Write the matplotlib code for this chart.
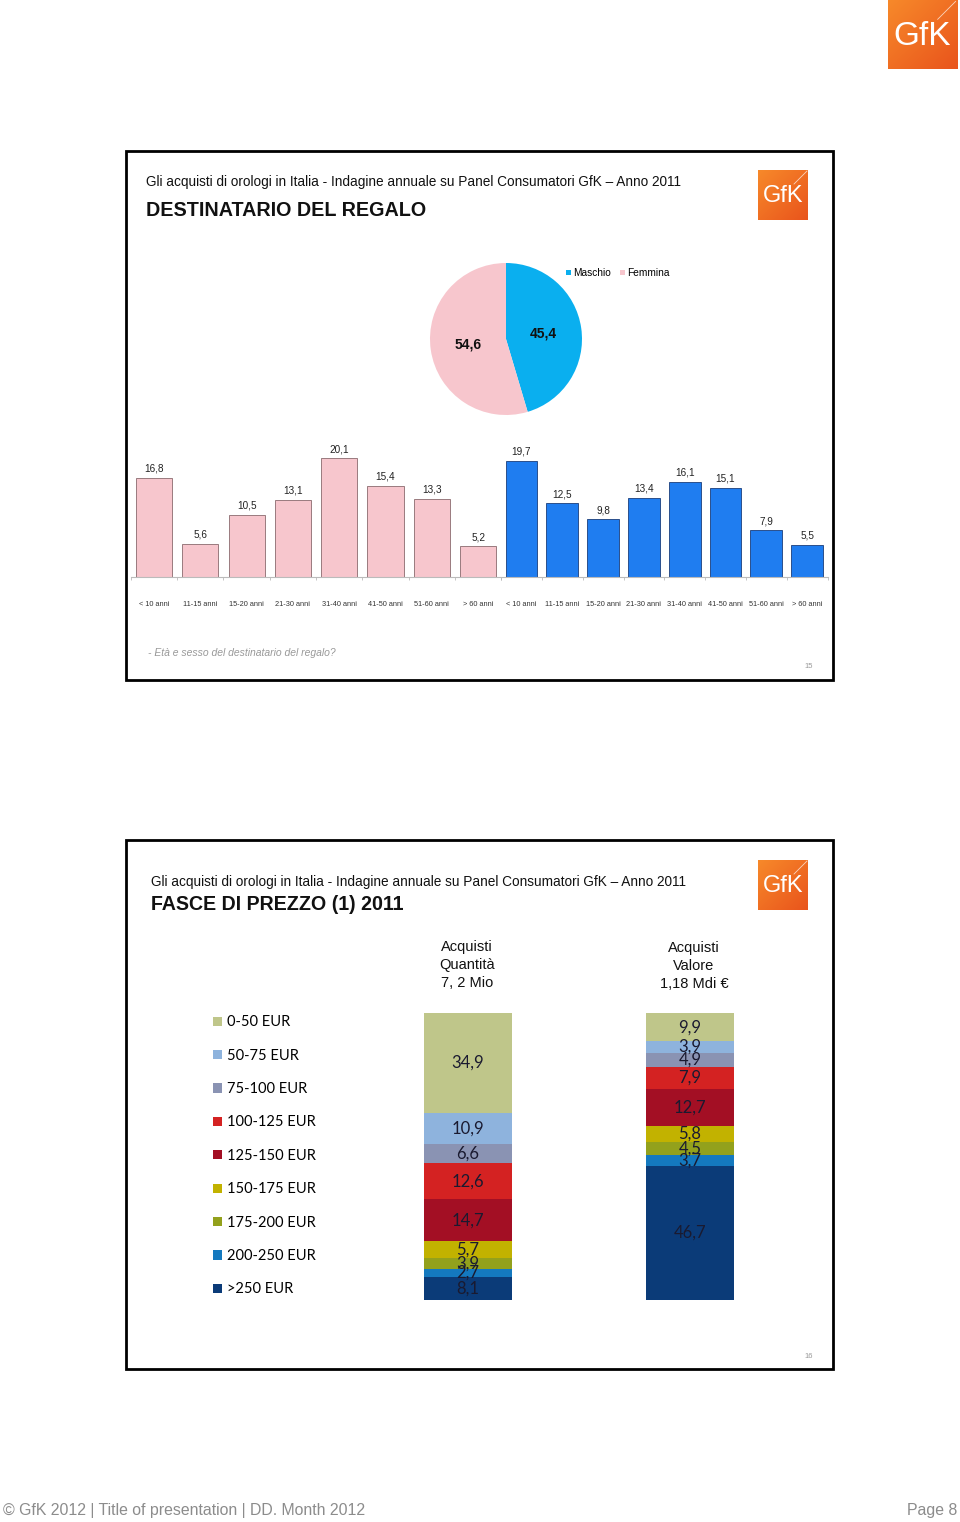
import numpy as np
import matplotlib
matplotlib.use("Agg")
import matplotlib.pyplot as plt
from matplotlib.patches import Rectangle

plt.rcParams["font.family"] = ["Liberation Sans", "DejaVu Sans"]

W, H = 960, 1522

# ── dati ──
sesso = ["Maschio", "Femmina"]
sesso_val = [45.4, 54.6]

eta = ["< 10 anni", "11-15 anni", "15-20 anni", "21-30 anni",
       "31-40 anni", "41-50 anni", "51-60 anni", "> 60 anni"]
femmina_eta = [16.8, 5.6, 10.5, 13.1, 20.1, 15.4, 13.3, 5.2]
maschio_eta = [19.7, 12.5, 9.8, 13.4, 16.1, 15.1, 7.9, 5.5]

fasce = ["0-50 EUR", "50-75 EUR", "75-100 EUR", "100-125 EUR", "125-150 EUR",
         "150-175 EUR", "175-200 EUR", "200-250 EUR", ">250 EUR"]
quantita = [34.9, 10.9, 6.6, 12.6, 14.7, 5.7, 3.9, 2.7, 8.1]
valore = [9.9, 3.9, 4.9, 7.9, 12.7, 5.8, 4.5, 3.7, 46.7]
colonne = ["Acquisti\nQuantità\n7, 2 Mio", "Acquisti\nValore\n1,18 Mdi €"]
fasce_col = ["#BFC68A", "#8EB3DD", "#8A93B3", "#D42222", "#A30F24",
             "#C2B200", "#93A11C", "#1479BF", "#0B3B78"]

titolo_sup = "Gli acquisti di orologi in Italia - Indagine annuale su Panel Consumatori GfK \u2013 Anno 2011"

fig = plt.figure(figsize=(W / 100, H / 100), dpi=100)


def px_axes(x, y, w, h):
    return fig.add_axes([x / W, 1 - (y + h) / H, w / W, h / H])


def fx(x):
    return x / W


def fy(y):
    return 1 - y / H


def comma(v):
    return f"{v:.1f}".replace(".", ",")


def logo(x, y, s, fs):
    ax = px_axes(x, y, s, s)
    g = np.linspace(0, 1, 64)
    grad = (g[None, :] + g[:, None]) / 2
    cmap = matplotlib.colors.LinearSegmentedColormap.from_list("gfk", ["#F7892A", "#E9541C"])
    ax.imshow(grad, cmap=cmap, extent=(0, 1, 0, 1), origin="upper")
    ax.plot([0.72, 0.98], [0.72, 0.98], color="white", lw=0.6, alpha=0.7)
    ax.text(0.5, 0.47, "GfK", color="white", fontsize=fs, ha="center", va="center")
    ax.set_xlim(0, 1)
    ax.set_ylim(0, 1)
    ax.axis("off")


def cornice(x, y, w, h):
    fig.patches.append(Rectangle((fx(x), fy(y + h)), w / W, h / H, transform=fig.transFigure,
                                 fill=False, edgecolor="black", lw=2))


def barre_eta(x0, width_px, vals, color, edge):
    ax = px_axes(x0, 440, width_px, 137)
    b = ax.bar(np.arange(len(eta)), vals, width=0.78, color=color, edgecolor=edge, lw=0.6)
    ax.bar_label(b, labels=[comma(v) for v in vals], padding=3, fontsize=7.2, color="#222222")
    ax.set_xlim(-0.5, len(eta) - 0.5)
    ax.set_ylim(0, 137 / 5.9)
    ax.set_xticks(np.arange(len(eta)))
    ax.set_xticklabels(eta, fontsize=5.3, color="#333333")
    ax.tick_params(axis="x", length=0, pad=17)
    ax.set_xticks(np.arange(len(eta) + 1) - 0.5, minor=True)
    ax.tick_params(axis="x", which="minor", length=2, color="#BBBBBB")
    ax.set_yticks([])
    for s in ("top", "right", "left"):
        ax.spines[s].set_visible(False)
    ax.spines["bottom"].set_color("#BBBBBB")
    ax.spines["bottom"].set_linewidth(0.8)
    return ax


# ── logo in alto ──
logo(888, 0, 69, 24)

# ── slide 1 ──
cornice(126, 151, 707, 529)
fig.text(fx(146), fy(182), titolo_sup, fontsize=9.8, va="center", color="#111111")
fig.text(fx(146), fy(210), "DESTINATARIO DEL REGALO", fontsize=14.2, fontweight="bold",
         va="center", color="#111111")
logo(758, 170, 50, 17)

# torta
axp = px_axes(430, 263, 152, 152)
wedges, _, autotexts = axp.pie(sesso_val, colors=["#0AAFEF", "#F7C6CD"], startangle=90,
                               counterclock=False, pctdistance=0.5,
                               autopct=lambda p: comma(p),
                               textprops=dict(fontsize=10, fontweight="bold", color="#111111"))
axp.set_xlim(-1, 1)
axp.set_ylim(-1, 1)
axp.set_aspect("equal")
fig.legend(wedges, sesso, loc="center left", bbox_to_anchor=(fx(561), fy(273)), ncol=2,
           frameon=False, fontsize=7.3, handlelength=0.5, handleheight=0.5,
           handletextpad=0.2, columnspacing=0.9, borderpad=0)

# barre età: femmina (rosa) e maschio (blu)
barre_eta(130.85, 370.4, femmina_eta, "#F7C6CD", "#8A6A6E")
barre_eta(501.1, 326.4, maschio_eta, "#1F7DF0", "#1B3E7A")

fig.text(fx(148), fy(653), "- Età e sesso del destinatario del regalo?", fontsize=7.5,
         style="italic", color="#999999", va="center")
fig.text(fx(804), fy(666), "15", fontsize=5.5, color="#999999", va="center")

# ── slide 2 ──
cornice(126, 840, 707, 529)
fig.text(fx(151), fy(882), titolo_sup, fontsize=9.8, va="center", color="#111111")
fig.text(fx(151), fy(905), "FASCE DI PREZZO (1) 2011", fontsize=14.1, fontweight="bold",
         va="center", color="#111111")
logo(758, 860, 50, 17)

fig.text(fx(467), fy(965), colonne[0], fontsize=10.5, ha="center", va="center",
         linespacing=1.4, color="#111111")
fig.text(fx(694), fy(966), colonne[1], fontsize=10.5, ha="center", va="center",
         linespacing=1.4, color="#111111")

axs = px_axes(400, 1013, 360, 287)
pos = [0, 1]
handles = []
for k, serie in enumerate((quantita, valore)):
    bottom = 0
    for i in range(len(fasce) - 1, -1, -1):
        b = axs.bar(pos[k], serie[i], bottom=bottom, width=88 / 222, color=fasce_col[i],
                    label=fasce[i], lw=0)
        axs.bar_label(b, labels=[comma(serie[i])], label_type="center", fontsize=12,
                      color="#1A1A30", family=["Lato", "DejaVu Sans"])
        bottom += serie[i]
        if k == 0:
            handles.insert(0, b)
axs.set_xlim(-68 / 222, 292 / 222)
axs.set_ylim(0, 100)
axs.axis("off")

fig.legend(handles, fasce, loc="upper left", bbox_to_anchor=(fx(206), fy(1008)),
           frameon=False, prop=dict(family=["Lato", "DejaVu Sans"], size=10.5),
           labelspacing=1.33, handlelength=0.6, handleheight=0.6, handletextpad=0.35,
           borderpad=0)

fig.text(fx(804), fy(1356), "16", fontsize=5.5, color="#999999", va="center")

# ── piè di pagina ──
fig.text(fx(3), fy(1510), "© GfK 2012 | Title of presentation | DD. Month 2012", fontsize=11.4,
         color="#8C8C8C", va="center")
fig.text(fx(957), fy(1510), "Page 8", fontsize=11.4, color="#8C8C8C", va="center", ha="right")

fig.savefig("out.png", dpi=100, facecolor="white")
